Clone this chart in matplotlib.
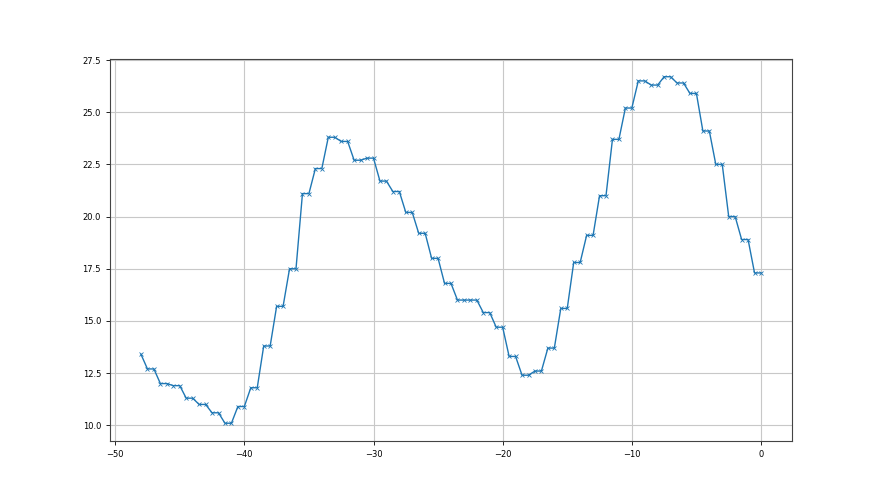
import matplotlib
matplotlib.use('Agg')
import matplotlib.pyplot as plt

x_values = [-48.0, -47.5, -47.0, -46.5, -46.0, -45.5, -45.0, -44.5, -44.0, -43.5, -43.0,
            -42.5, -42.0, -41.5, -41.0, -40.5, -40.0, -39.5, -39.0, -38.5, -38.0,
            -37.5, -37.0, -36.5, -36.0, -35.5, -35.0, -34.5, -34.0, -33.5, -33.0,
            -32.5, -32.0, -31.5, -31.0, -30.5, -30.0, -29.5, -29.0, -28.5, -28.0,
            -27.5, -27.0, -26.5, -26.0, -25.5, -25.0, -24.5, -24.0, -23.5, -23.0,
            -22.5, -22.0, -21.5, -21.0, -20.5, -20.0, -19.5, -19.0, -18.5, -18.0,
            -17.5, -17.0, -16.5, -16.0, -15.5, -15.0, -14.5, -14.0, -13.5, -13.0,
            -12.5, -12.0, -11.5, -11.0, -10.5, -10.0, -9.5, -9.0, -8.5, -8.0,
            -7.5, -7.0, -6.5, -6.0, -5.5, -5.0, -4.5, -4.0, -3.5, -3.0,
            -2.5, -2.0, -1.5, -1.0, -0.5, 0.0]

y_values = [13.4,
            12.7, 12.7, 12.0, 12.0, 11.9, 11.9, 11.3, 11.3, 11.0, 11.0,
            10.6, 10.6, 10.1, 10.1, 10.9, 10.9, 11.8, 11.8, 13.8, 13.8,
            15.7, 15.7, 17.5, 17.5, 21.1, 21.1, 22.3, 22.3, 23.8, 23.8,
            23.6, 23.6, 22.7, 22.7, 22.8, 22.8, 21.7, 21.7, 21.2, 21.2,
            20.2, 20.2, 19.2, 19.2, 18.0, 18.0, 16.8, 16.8, 16.0, 16.0,
            16.0, 16.0, 15.4, 15.4, 14.7, 14.7, 13.3, 13.3, 12.4, 12.4,
            12.6, 12.6, 13.7, 13.7, 15.6, 15.6, 17.8, 17.8, 19.1, 19.1,
            21.0, 21.0, 23.7, 23.7, 25.2, 25.2, 26.5, 26.5, 26.3, 26.3,
            26.7, 26.7, 26.4, 26.4, 25.9, 25.9, 24.1, 24.1, 22.5, 22.5,
            20.0, 20.0, 18.9, 18.9, 17.3, 17.3]

fig, ax = plt.subplots(figsize=(8.8, 4.95), dpi=100)
ax.plot(x_values, y_values, color='tab:blue', linewidth=1.0,
        marker='x', markersize=3.5, markeredgewidth=0.6)
ax.grid(True, color='#c8c8c8', linewidth=0.8)
ax.tick_params(labelsize=6, length=3, width=0.6)
for s in ax.spines.values():
    s.set_color('#444444')
    s.set_linewidth(0.8)

plt.savefig('out.png', dpi=100)
